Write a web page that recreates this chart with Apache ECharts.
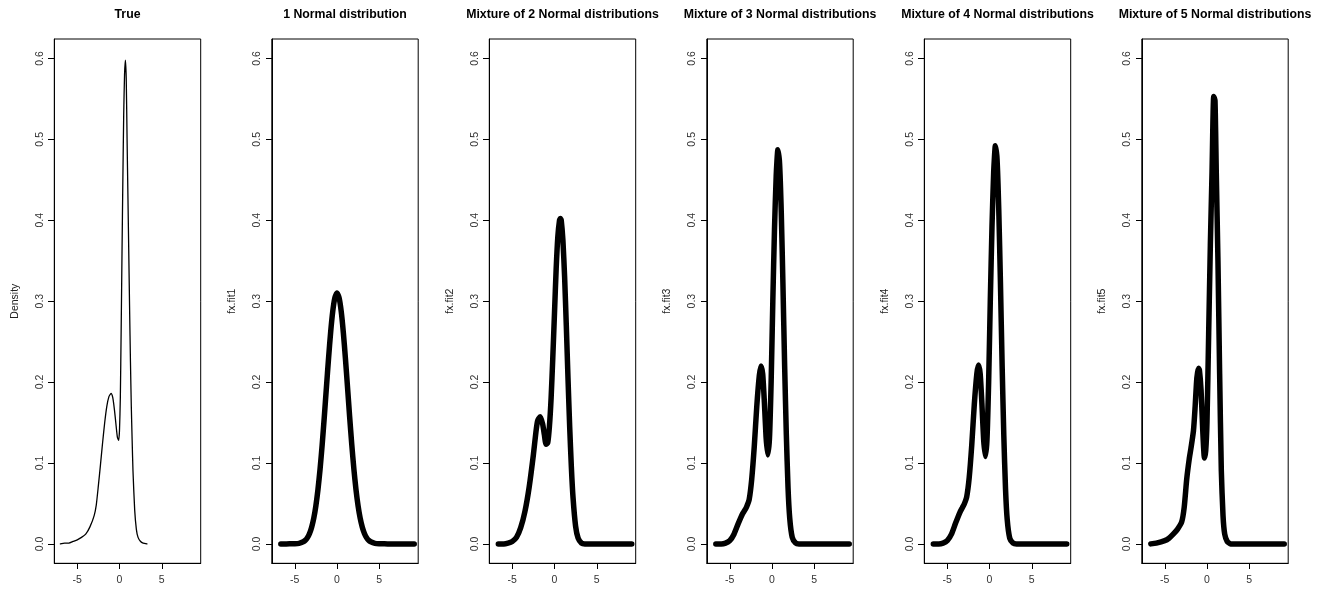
<!DOCTYPE html>
<html>
<head>
<meta charset="utf-8">
<script src="https://cdn.jsdelivr.net/npm/echarts@6/dist/echarts.min.js"></script>
<style>
html,body{margin:0;padding:0;background:#fff;}
#chart{width:1329px;height:595px;background:#fff;}
</style>
</head>
<body>
<div id="chart"></div>
<script>
// ---------- data ----------
const titles = ["True", "1 Normal distribution", "Mixture of 2 Normal distributions",
  "Mixture of 3 Normal distributions", "Mixture of 4 Normal distributions", "Mixture of 5 Normal distributions"];
const yNames = ["Density", "fx.fit1", "fx.fit2", "fx.fit3", "fx.fit4", "fx.fit5"];
const xTicks = [-5, 0, 5];
const yTicks = [0, 0.1, 0.2, 0.3, 0.4, 0.5, 0.6];

const trueX = [-7.0,-6.5,-6.0,-5.5,-5.0,-4.5,-4.0,-3.5,-3.0,-2.75,-2.5,-2.25,-2.0,-1.75,-1.5,-1.25,-1.0,-0.8,-0.6,-0.4,-0.25,-0.1,0.0,0.1,0.2,0.3,0.4,0.5,0.6,0.7,0.8,0.9,1.0,1.1,1.2,1.3,1.4,1.5,1.6,1.8,2.0,2.2,2.5,2.8,3.25];
const trueY = [0.000,0.001,0.001,0.003,0.005,0.008,0.012,0.021,0.035,0.048,0.072,0.098,0.125,0.150,0.170,0.182,0.186,0.181,0.166,0.146,0.132,0.128,0.140,0.180,0.265,0.360,0.450,0.530,0.580,0.598,0.575,0.500,0.430,0.360,0.290,0.225,0.170,0.128,0.090,0.042,0.018,0.008,0.003,0.001,0.000];

const fit1X = [-6.65,-6.0,-5.5,-5.0,-4.5,-4.0,-3.75,-3.5,-3.25,-3.0,-2.75,-2.5,-2.25,-2.0,-1.75,-1.5,-1.25,-1.0,-0.75,-0.5,-0.25,0.0,0.25,0.5,0.75,1.0,1.25,1.5,1.75,2.0,2.25,2.5,2.75,3.0,3.25,3.5,3.75,4.0,4.5,5.0,5.5,6.0,7.0,8.0,9.15];
const fit1Y = [0,0,0.0001,0.0002,0.0007,0.0025,0.0044,0.0077,0.0128,0.0205,0.0316,0.0470,0.0673,0.0927,0.1230,0.1572,0.1934,0.2292,0.2616,0.2875,0.3042,0.3100,0.3042,0.2875,0.2616,0.2292,0.1934,0.1572,0.1230,0.0927,0.0673,0.0470,0.0316,0.0205,0.0128,0.0077,0.0044,0.0025,0.0007,0.0002,0.0001,0,0,0,0];

const fit2X = [-6.65,-6.0,-5.5,-5.0,-4.5,-4.0,-3.5,-3.0,-2.5,-2.2,-2.0,-1.7,-1.4,-1.2,-1.0,-0.8,-0.6,-0.4,-0.2,0.0,0.2,0.4,0.6,0.7,0.8,1.0,1.2,1.4,1.6,1.8,2.0,2.2,2.5,2.8,3.2,3.6,4.5,6.0,7.5,9.15];
const fit2Y = [0,0,0.001,0.003,0.008,0.020,0.040,0.070,0.110,0.138,0.152,0.157,0.148,0.135,0.123,0.125,0.145,0.180,0.230,0.285,0.340,0.380,0.400,0.402,0.400,0.375,0.330,0.270,0.205,0.145,0.095,0.057,0.022,0.007,0.001,0,0,0,0,0];

const fit3X = [-6.65,-6.0,-5.5,-5.0,-4.5,-4.0,-3.5,-3.2,-3.0,-2.7,-2.4,-2.1,-1.8,-1.5,-1.3,-1.1,-0.9,-0.7,-0.5,-0.3,-0.1,0.1,0.3,0.5,0.7,0.9,1.1,1.3,1.5,1.7,1.9,2.1,2.4,2.8,3.2,4.0,5.5,7.0,9.15];
const fit3Y = [0,0,0.001,0.004,0.012,0.025,0.037,0.042,0.046,0.055,0.080,0.120,0.170,0.208,0.220,0.210,0.175,0.132,0.110,0.130,0.200,0.300,0.390,0.455,0.487,0.470,0.410,0.320,0.220,0.135,0.070,0.032,0.008,0.001,0,0,0,0,0];

const fit4X = [-6.65,-6.0,-5.5,-5.0,-4.5,-4.0,-3.5,-3.2,-3.0,-2.7,-2.4,-2.1,-1.8,-1.5,-1.3,-1.1,-0.9,-0.7,-0.5,-0.3,-0.1,0.1,0.3,0.5,0.7,0.9,1.1,1.3,1.5,1.7,1.9,2.1,2.4,2.8,3.2,4.0,5.5,7.0,9.15];
const fit4Y = [0,0,0.001,0.004,0.012,0.026,0.039,0.045,0.049,0.058,0.082,0.122,0.172,0.210,0.221,0.210,0.174,0.130,0.108,0.128,0.200,0.302,0.393,0.460,0.492,0.475,0.413,0.322,0.220,0.133,0.068,0.030,0.007,0.001,0,0,0,0,0];

const fit5X = [-6.65,-6.0,-5.0,-4.5,-4.0,-3.5,-3.0,-2.7,-2.4,-2.1,-1.9,-1.6,-1.4,-1.2,-1.0,-0.9,-0.7,-0.5,-0.3,-0.15,0.0,0.2,0.4,0.6,0.8,0.95,1.1,1.3,1.5,1.7,1.9,2.1,2.4,2.8,3.5,5.0,6.5,8.0,9.15];
const fit5Y = [0,0.001,0.004,0.007,0.012,0.018,0.027,0.045,0.080,0.105,0.118,0.140,0.170,0.205,0.217,0.215,0.190,0.140,0.106,0.115,0.150,0.260,0.370,0.460,0.553,0.548,0.460,0.350,0.210,0.090,0.035,0.012,0.003,0,0,0,0,0,0];

const seriesX = [trueX, fit1X, fit2X, fit3X, fit4X, fit5X];
const seriesY = [trueY, fit1Y, fit2Y, fit3Y, fit4Y, fit5Y];

// ---------- layout ----------
const panelLeft0 = 54.3, panelStep = 217.5, panelW = 146.4, panelTop = 39, panelH = 524.3;
const xMin = -7.72, xMax = 9.62, yMin = -0.024, yMax = 0.624;
const FONT = "'Liberation Sans', Arial, Helvetica, sans-serif";
const TICK = 6;

// outward tick marks on the box edges, positioned through the axes' own scales
function tickRenderer(isX) {
  return function (params, api) {
    const v = api.value(isX ? 0 : 1);
    const p = isX ? api.coord([v, yMin]) : api.coord([xMin, v]);
    if (isX) {
      const x = Math.round(p[0]) + 0.5, y = Math.round(p[1]);
      return {type: 'line', shape: {x1: x, y1: y, x2: x, y2: y + TICK},
        style: {stroke: '#000', lineWidth: 1}};
    }
    const x = Math.round(p[0]), y = Math.round(p[1]) + 0.5;
    return {type: 'line', shape: {x1: x - TICK, y1: y, x2: x, y2: y},
      style: {stroke: '#000', lineWidth: 1}};
  };
}

const grid = [], xAxis = [], yAxis = [], series = [], title = [];
for (let i = 0; i < 6; i++) {
  const left = panelLeft0 + i * panelStep;
  grid.push({left: left, top: panelTop, width: panelW, height: panelH, show: true, borderColor: '#000', borderWidth: 1});
  title.push({text: titles[i], left: left + panelW / 2, top: 9, textAlign: 'center', padding: 0,
    textStyle: {fontFamily: FONT, fontSize: 12.3, fontWeight: 'bold', color: '#000'}});
  xAxis.push({gridIndex: i, type: 'value', min: xMin, max: xMax,
    splitLine: {show: false},
    axisLine: {show: true, onZero: false, lineStyle: {color: '#000', width: 1}},
    axisTick: {show: false},
    axisLabel: {show: true, customValues: xTicks, margin: 11, fontSize: 10.5, color: '#333', fontFamily: FONT,
      formatter: v => String(v)}});
  yAxis.push({gridIndex: i, type: 'value', min: yMin, max: yMax,
    name: yNames[i], nameLocation: 'middle', nameGap: 34, nameRotate: 90,
    nameTextStyle: {fontFamily: FONT, fontSize: 10.5, color: '#222'},
    splitLine: {show: false},
    axisLine: {show: true, onZero: false, lineStyle: {color: '#000', width: 1}},
    axisTick: {show: false},
    axisLabel: {show: true, customValues: yTicks, rotate: 90, margin: 9, fontSize: 10.5, color: '#333', fontFamily: FONT,
      formatter: v => v.toFixed(1)}});
  const data = seriesX[i].map((x, k) => [x, seriesY[i][k]]);
  series.push({type: 'line', xAxisIndex: i, yAxisIndex: i, data: data, showSymbol: false, symbol: 'none',
    smooth: 0.2, z: 3,
    lineStyle: {color: '#000', width: i === 0 ? 1.3 : 5.5, cap: 'round', join: 'round'},
    silent: true});
  series.push({type: 'custom', xAxisIndex: i, yAxisIndex: i, clip: false, silent: true, z: 5,
    data: xTicks.map(v => [v, 0]), renderItem: tickRenderer(true)});
  series.push({type: 'custom', xAxisIndex: i, yAxisIndex: i, clip: false, silent: true, z: 5,
    data: yTicks.map(v => [0, v]), renderItem: tickRenderer(false)});
}

const chart = echarts.init(document.getElementById('chart'), null, {renderer: 'canvas'});
chart.setOption({animation: false, title, grid, xAxis, yAxis, series});
</script>
</body>
</html>
